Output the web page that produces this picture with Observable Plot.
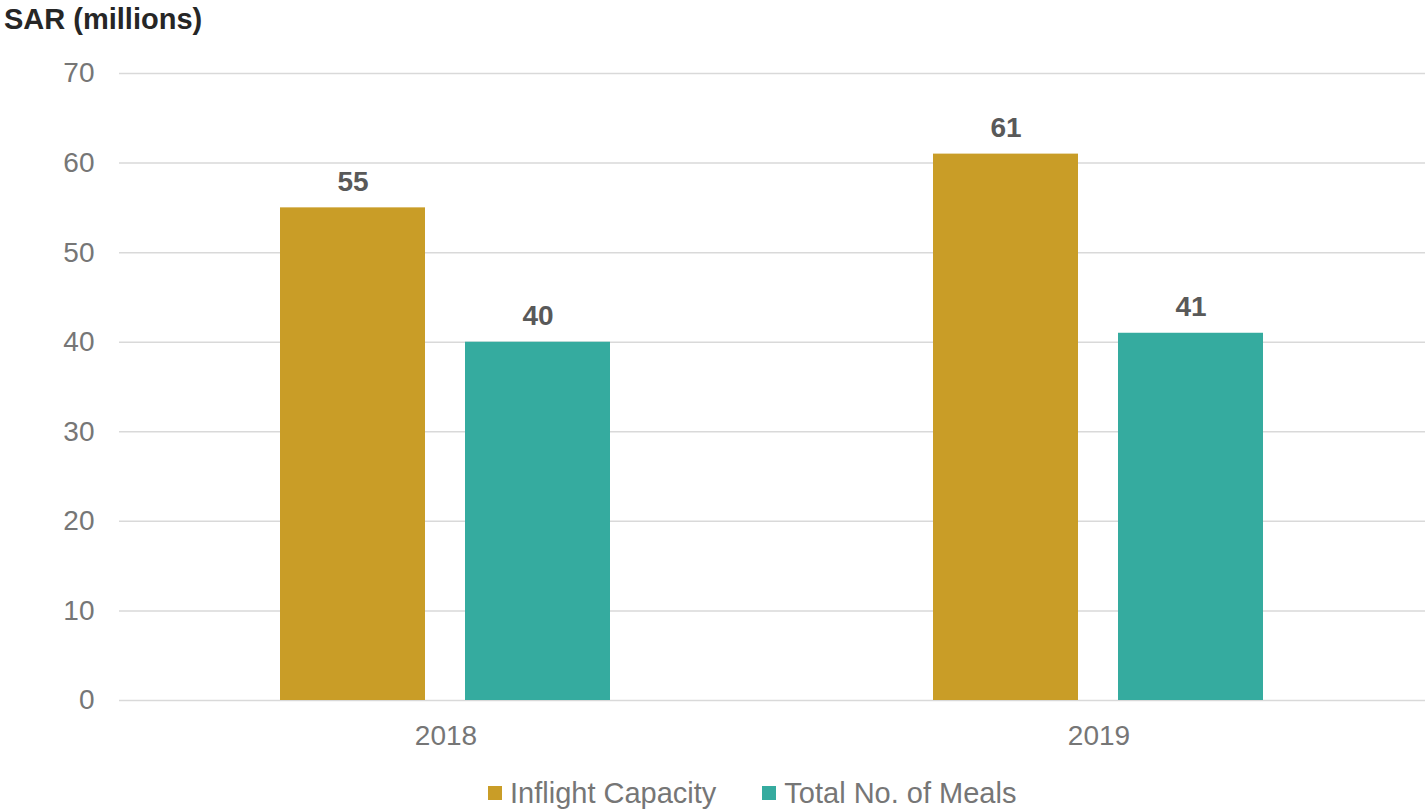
<!DOCTYPE html>
<html>
<head>
<meta charset="utf-8">
<script src="https://cdn.jsdelivr.net/npm/d3@7"></script>
<script src="https://cdn.jsdelivr.net/npm/@observablehq/plot@0.6"></script>
<style>
  body { margin: 0; background: #fff; font-family: "Liberation Sans", Arial, sans-serif; }
  #wrap { position: relative; width: 1428px; height: 809px; }
  #title { position: absolute; left: 4px; top: 5px; font-size: 29px; font-weight: bold; color: #262626; line-height: 28px; white-space: nowrap; }
  #chart { position: absolute; left: 0; top: 0; }
  #legend { position: absolute; left: 488px; top: 777px; display: flex; align-items: center; font-size: 29px; color: #767676; line-height: 32px; white-space: nowrap; }
  .item { display: flex; align-items: center; margin-right: 46px; }
  .sw { width: 14px; height: 14px; margin-right: 8px; }
</style>
</head>
<body>
<div id="wrap">
  <div id="chart"></div>
  <div id="title">SAR (millions)</div>
  <div id="legend"></div>
</div>
<script>
const years = ["2018", "2019"];
const series = ["Inflight Capacity", "Total No. of Meals"];
const inflightCapacity = [55, 61];
const totalMeals = [40, 41];
const colors = ["#C99D27", "#35AB9F"];
const yTicks = [0, 10, 20, 30, 40, 50, 60, 70];

const data = years.flatMap((y, i) => [
  {year: y, series: series[0], value: inflightCapacity[i]},
  {year: y, series: series[1], value: totalMeals[i]}
]);

const chart = Plot.plot({
  width: 1428,
  height: 760,
  marginTop: 73,
  marginBottom: 60,
  marginLeft: 118,
  marginRight: 3,
  style: {fontFamily: "'Liberation Sans', Arial, sans-serif", fontSize: "28px", color: "#767676", background: "white"},
  fx: {domain: years, padding: 0, axis: "bottom", label: null, tickSize: 0, tickPadding: 25},
  x: {domain: series, axis: null, paddingInner: 0.215, paddingOuter: 0.864},
  y: {domain: [0, 70], ticks: yTicks, tickSize: 0, tickPadding: 25, label: null},
  color: {domain: series, range: colors},
  marks: [
    Plot.ruleY(yTicks, {stroke: "#D9D9D9", strokeWidth: 1.5}),
    Plot.barY(data, {fx: "year", x: "series", y: "value", fill: "series"}),
    Plot.text(data, {fx: "year", x: "series", y: "value", text: d => String(d.value), dy: -17, lineAnchor: "bottom", fontWeight: "bold", fill: "#595959", fontSize: 28})
  ]
});
document.getElementById("chart").appendChild(chart);

const legend = document.getElementById("legend");
series.forEach((s, i) => {
  const item = document.createElement("div");
  item.className = "item";
  const sw = document.createElement("div");
  sw.className = "sw";
  sw.style.background = colors[i];
  const label = document.createElement("span");
  label.textContent = s;
  item.appendChild(sw);
  item.appendChild(label);
  legend.appendChild(item);
});
</script>
</body>
</html>
